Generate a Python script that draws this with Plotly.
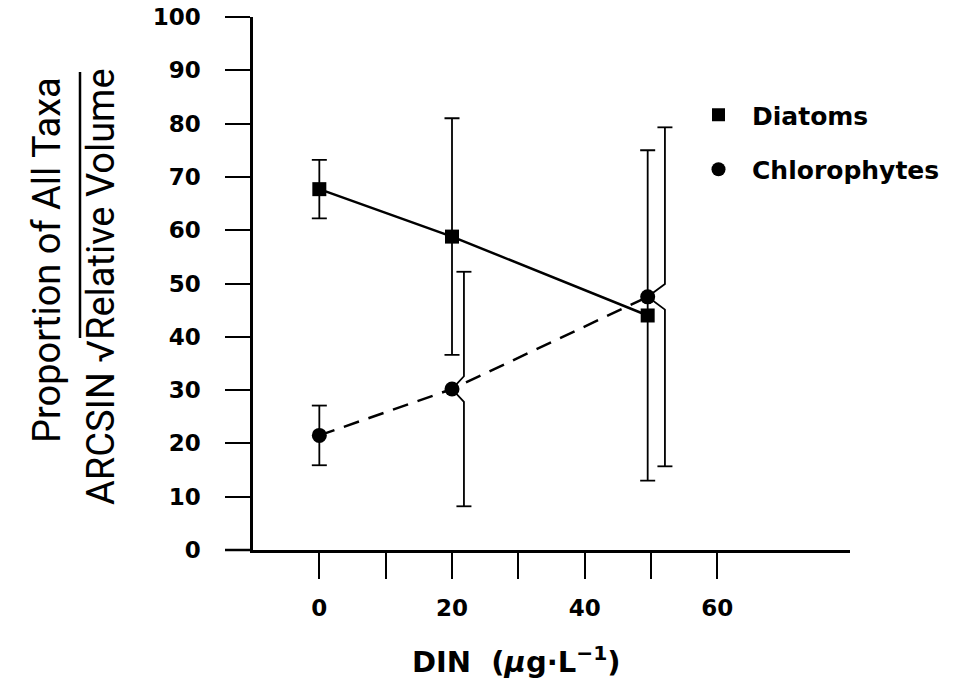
import plotly.graph_objects as go

# ---- data ----
din = [0, 20, 49.5]
diatoms = [67.7, 58.8, 44.0]
diatoms_err = [5.5, 22.2, 31.0]
chloro = [21.5, 30.2, 47.5]
chloro_err = [5.6, 22.0, 31.8]
chloro_err_shift = [0, 1.8, 2.6]      # error bars drawn displaced to the right
x_tickvals = [0, 20, 40, 60]
x_ticktext = ["0", "20", "40", "60"]
x_minor_tickvals = [10, 30, 50]
y_tickvals = list(range(0, 101, 10))
series_names = ["Diatoms", "Chlorophytes"]

# ---- geometry ----
W, H = 960, 694
ML, MR, MT, MB = 253, 110, 17, 144
PW, PH = W - ML - MR, H - MT - MB
XR = [-10, 80]
px_per_x = PW / (XR[1] - XR[0])


def px2paper_x(px):
    return (px - ML) / PW


def px2paper_y(py):
    return (H - MB - py) / PH


CAP = 7.5 / px_per_x
KINK = 2.4

# chlorophyte error bars (some displaced) built as one path trace
ex, ey = [], []
for x, y, e, s in zip(din, chloro, chloro_err, chloro_err_shift):
    xo = x + s
    if s == 0:
        ex += [x, x, None]
        ey += [y + e, y - e, None]
    else:
        ex += [xo, xo, x, xo, xo, None]
        ey += [y + e, y + KINK, y, y - KINK, y - e, None]
    ex += [xo - CAP, xo + CAP, None, xo - CAP, xo + CAP, None]
    ey += [y + e, y + e, None, y - e, y - e, None]

fig = go.Figure()

fig.add_trace(go.Scatter(
    x=ex, y=ey, mode="lines", line=dict(color="black", width=1.8),
    showlegend=False, hoverinfo="skip"))

fig.add_trace(go.Scatter(
    x=din, y=diatoms, mode="lines+markers", name=series_names[0],
    line=dict(color="black", width=2.5),
    marker=dict(symbol="square", size=14, color="black"),
    error_y=dict(type="data", array=diatoms_err, visible=True,
                 color="black", thickness=1.8, width=7.5),
    showlegend=False))

fig.add_trace(go.Scatter(
    x=din, y=chloro, mode="lines+markers", name=series_names[1],
    line=dict(color="black", width=2.5, dash="16px,10px"),
    marker=dict(symbol="circle", size=15, color="black"),
    showlegend=False))

# legend entries (markers only)
fig.add_trace(go.Scatter(
    x=[None], y=[None], mode="markers", name=series_names[0],
    marker=dict(symbol="square", size=13, color="black"), legendgroup="a"))
fig.add_trace(go.Scatter(
    x=[None], y=[None], mode="markers", name=series_names[1],
    marker=dict(symbol="circle", size=14, color="black"), legendgroup="b"))

tickfont = dict(family="DejaVu Sans", size=23, color="black", weight="bold")

fig.update_layout(
    width=W, height=H,
    margin=dict(l=ML, r=MR, t=MT, b=MB, autoexpand=False),
    paper_bgcolor="white", plot_bgcolor="white",
    xaxis=dict(range=XR, tickvals=x_tickvals, ticktext=x_ticktext,
               ticks="outside", ticklen=26, tickwidth=2, tickcolor="black",
               minor=dict(tickvals=x_minor_tickvals, ticks="outside", ticklen=26,
                          tickwidth=2, tickcolor="black", showgrid=False),
               showline=True, linecolor="black", linewidth=2.5,
               showgrid=False, zeroline=False, tickfont=tickfont,
               ticklabelstandoff=10, automargin=False),
    yaxis=dict(range=[0, 100], tickvals=y_tickvals,
               ticks="outside", ticklen=25, tickwidth=2, tickcolor="black",
               showline=True, linecolor="black", linewidth=2.5,
               showgrid=False, zeroline=False, tickfont=tickfont,
               ticklabelstandoff=20, automargin=False),
    legend=dict(x=px2paper_x(685), y=px2paper_y(92), xanchor="left", yanchor="top",
                font=dict(family="DejaVu Sans", size=25, color="black", weight="bold"),
                itemwidth=57, tracegroupgap=19, bgcolor="rgba(0,0,0,0)"),
    showlegend=True,
)

# extension of the x-axis line to the left of the y-axis
fig.add_shape(type="line", xref="paper", yref="paper",
              x0=px2paper_x(225), x1=0, y0=0, y1=0,
              line=dict(color="black", width=2.5))

# x-axis title
fig.add_annotation(xref="paper", yref="paper", x=px2paper_x(516), y=0,
                   yshift=-110, xanchor="center", yanchor="middle", showarrow=False,
                   text="DIN  (<i>μ</i>g·L<sup>−1</sup>)",
                   font=dict(family="DejaVu Sans", size=29, color="black", weight="bold"))

# y-axis title (two rotated lines)
ytfont = dict(family="Roboto", size=38, color="black", weight="normal")
fig.add_annotation(xref="paper", yref="paper", x=px2paper_x(47), y=px2paper_y(260),
                   xanchor="center", yanchor="middle", showarrow=False, textangle=-90,
                   text="Proportion of All Taxa", font=ytfont)
fig.add_annotation(xref="paper", yref="paper", x=px2paper_x(101), y=px2paper_y(287),
                   xanchor="center", yanchor="middle", showarrow=False, textangle=-90,
                   text="ARCSIN √Relative Volume", font=ytfont)
# vinculum of the square root
fig.add_shape(type="line", xref="paper", yref="paper",
              x0=px2paper_x(80), x1=px2paper_x(80),
              y0=px2paper_y(72), y1=px2paper_y(338),
              line=dict(color="black", width=2.5))

fig.write_html("out.html")
